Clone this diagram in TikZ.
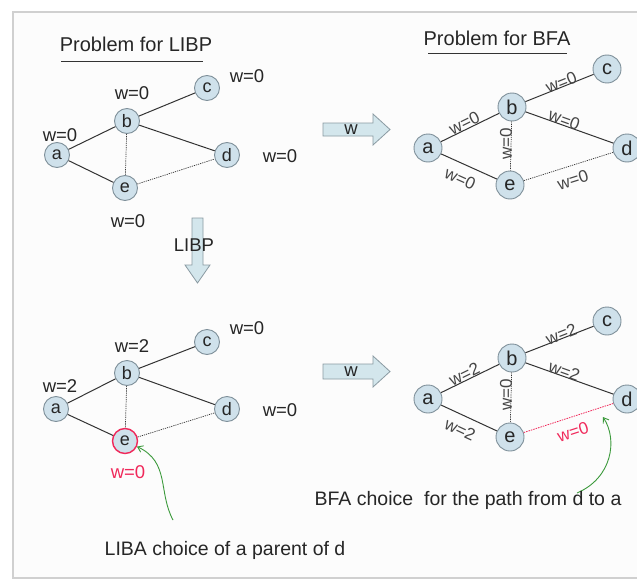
\documentclass[tikz,border=0pt]{standalone}
\usepackage{fontspec}
\setmainfont{Liberation Sans}
\usetikzlibrary{arrows.meta}
\definecolor{nodefill}{HTML}{CFE1EB}
\definecolor{nodeline}{HTML}{7F909A}
\definecolor{txt}{HTML}{262626}
\definecolor{edgec}{HTML}{333333}
\definecolor{redc}{HTML}{F0285A}
\definecolor{greenc}{HTML}{3C9A3C}
\definecolor{framec}{HTML}{D0D0D0}
\definecolor{arrfill}{HTML}{D3E6EC}
\definecolor{arrline}{HTML}{8A9AA2}
\definecolor{elabc}{HTML}{454545}
\begin{document}
\begin{tikzpicture}[x=1pt,y=-1pt,
  vtx/.style={circle, draw=nodeline, fill=nodefill, line width=0.9pt, minimum size=25pt, inner sep=0pt, font=\fontsize{18}{18}\selectfont, text=txt},
  vtxb/.style={vtx, minimum size=28pt, font=\fontsize{20}{20}\selectfont},
  wlab/.style={font=\fontsize{18.5}{18.5}\selectfont, text=txt, inner sep=0pt},
  elab/.style={font=\fontsize{17}{17}\selectfont, text=elabc, inner sep=0pt, sloped},
  title/.style={font=\fontsize{20}{20}\selectfont, text=txt, inner sep=0pt},
  caption/.style={font=\fontsize{19.5}{19.5}\selectfont, text=txt, inner sep=0pt},
  solidedge/.style={draw=edgec, line width=1pt},
  dotedge/.style={draw=edgec, line width=0.7pt, dash pattern=on 1.2pt off 1pt},
  blockarrow/.style={draw=arrline, fill=arrfill, line width=0.8pt},
  greenarrow/.style={draw=greenc, line width=0.9pt, -{Straight Barb[angle=70:6pt]}}
]
\useasboundingbox (0,0) rectangle (637,586);
\clip (0,0) rectangle (637,586);
\fill[white] (0,0) rectangle (637,586);
\draw[framec, line width=1.5pt, fill=gray!2] (13,12) rectangle (700,578);

% ---------- top-left graph ----------
\node[title] (t1) at (136,44) {Problem for LIBP};
\draw[edgec, line width=0.9pt] (61,61) -- (203,61);
\node[vtx] (a1) at (57,155) {a};
\node[vtx] (b1) at (127,121) {b};
\node[vtx] (c1) at (207,88) {c};
\node[vtx] (d1) at (227,155) {d};
\node[vtx] (e1) at (125,188) {e};
\draw[solidedge] (a1) -- (b1);
\draw[solidedge] (b1) -- (c1);
\draw[solidedge] (b1) -- (d1);
\draw[solidedge] (a1) -- (e1);
\draw[dotedge] (b1) -- (e1);
\draw[dotedge] (e1) -- (d1);
\node[wlab] (wc1) at (247,76) {w=0};
\node[wlab] (wb1) at (132,93) {w=0};
\node[wlab] (wa1) at (60,135) {w=0};
\node[wlab] (wd1) at (280,156) {w=0};
\node[wlab] (we1) at (128,221) {w=0};

% ---------- top arrow ----------
\filldraw[blockarrow] (323,123) -- (373,123) -- (373,114) -- (390,129.5) -- (373,145) -- (373,136) -- (323,136) -- cycle;
\node[wlab] (wa) at (351,129.5) {w};

% ---------- down arrow ----------
\filldraw[blockarrow] (192,218) -- (203,218) -- (203,265) -- (210,265) -- (197.5,283) -- (185,265) -- (192,265) -- cycle;
\node[wlab] (libp) at (194,245) {LIBP};

% ---------- top-right graph ----------
\node[title] (t2) at (497,38) {Problem for BFA};
\draw[edgec, line width=0.9pt] (428,53) -- (567,53);
\node[vtxb] (a2) at (428,148) {a};
\node[vtxb] (b2) at (512,107) {b};
\node[vtxb] (c2) at (607,69) {c};
\node[vtxb] (d2) at (627,148) {d};
\node[vtxb] (e2) at (510,185) {e};
\draw[solidedge] (a2) -- node[elab, pos=0.45, above=0pt] {w=0} (b2);
\draw[solidedge] (b2) -- node[elab, pos=0.55, above=-2pt] {w=0} (c2);
\draw[solidedge] (b2) -- node[elab, pos=0.42, above=-1pt] {w=0} (d2);
\draw[solidedge] (a2) -- node[elab, pos=0.45, below=8pt] {w=0} (e2);
\draw[dotedge] (b2) -- (e2);
\draw[dotedge] (e2) -- node[elab, pos=0.5, below=8pt] {w=0} (d2);
\node[font=\fontsize{17}{17}\selectfont, text=elabc, inner sep=0pt, rotate=90] (wbe2) at (506,144) {w=0};

% ---------- bottom-left graph ----------
\node[vtx] (a3) at (56,409) {a};
\node[vtx] (b3) at (127,373) {b};
\node[vtx] (c3) at (207,342) {c};
\node[vtx] (d3) at (227,409) {d};
\node[vtx, draw=redc, line width=1.4pt] (e3) at (125,441) {e};
\draw[solidedge] (a3) -- (b3);
\draw[solidedge] (b3) -- (c3);
\draw[solidedge] (b3) -- (d3);
\draw[solidedge] (a3) -- (e3);
\draw[dotedge] (b3) -- (e3);
\draw[dotedge] (e3) -- (d3);
\node[wlab] (wc3) at (247,328) {w=0};
\node[wlab] (wb3) at (132,346) {w=2};
\node[wlab] (wa3) at (60,386) {w=2};
\node[wlab] (wd3) at (280,410) {w=0};
\node[wlab, text=redc] (we3) at (128,472) {w=0};
\coordinate (g1) at (173,520);
\draw[greenarrow] (g1) .. controls (158,492) and (170,462) .. (e3);
\node[caption] (cap1) at (225,550) {LIBA choice of a parent of d};

% ---------- bottom arrow ----------
\filldraw[blockarrow] (323,364) -- (373,364) -- (373,356) -- (390,371.5) -- (373,387) -- (373,379) -- (323,379) -- cycle;
\node[wlab] (wb) at (351,371.5) {w};

% ---------- bottom-right graph ----------
\node[vtxb] (a4) at (428,399) {a};
\node[vtxb] (b4) at (512,358) {b};
\node[vtxb] (c4) at (607,321) {c};
\node[vtxb] (d4) at (627,399) {d};
\node[vtxb] (e4) at (510,437) {e};
\draw[solidedge] (a4) -- node[elab, pos=0.45, above=0pt] {w=2} (b4);
\draw[solidedge] (b4) -- node[elab, pos=0.55, above=-2pt] {w=2} (c4);
\draw[solidedge] (b4) -- node[elab, pos=0.42, above=-1pt] {w=2} (d4);
\draw[solidedge] (a4) -- node[elab, pos=0.45, below=8pt] {w=2} (e4);
\draw[dotedge] (b4) -- (e4);
\draw[draw=redc, line width=0.8pt, dash pattern=on 1.5pt off 1pt] (e4) -- node[elab, pos=0.5, below=8pt, text=redc] {w=0} (d4);
\node[font=\fontsize{17}{17}\selectfont, text=elabc, inner sep=0pt, rotate=90] (wbe4) at (506,395) {w=0};
\coordinate (g2s) at (577,493);
\coordinate (g2e) at (603,417);
\draw[greenarrow] (g2s) .. controls (612,478) and (618,440) .. (g2e);
\node[caption] (cap2) at (468,500) {BFA choice\ \ for the path from d to a};
\end{tikzpicture}
\end{document}
